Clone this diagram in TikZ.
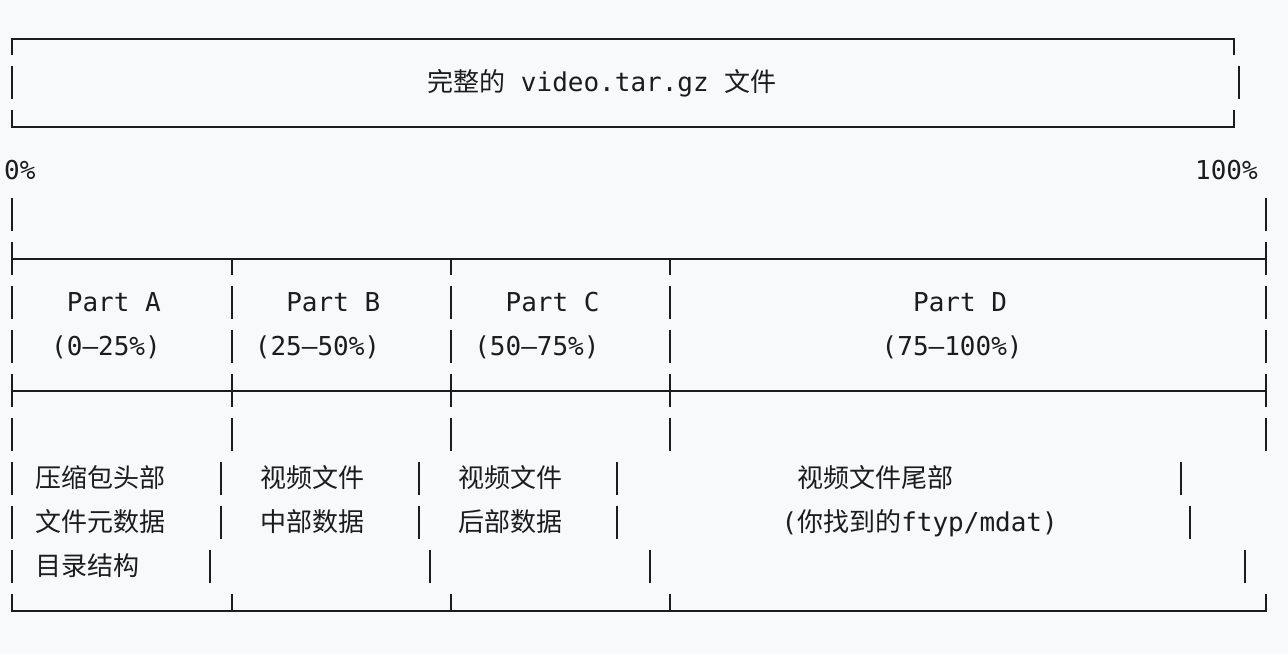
\documentclass[tikz,border=0pt]{standalone}
\usepackage{fontspec}
\setmainfont{DejaVu Sans Mono}
\newfontfamily\cjk{Noto Sans CJK SC}
\usepackage{xcolor}
\usepackage{tikz}
\definecolor{paper}{HTML}{F8F9FB}
\definecolor{ink}{HTML}{1C1C1C}

\begin{document}
\begin{tikzpicture}[x=1pt,y=-1pt,
        frame/.style={ink, line width=2pt},
        txt/.style={ink, anchor=base west, inner sep=0pt, outer sep=0pt, font=\fontsize{26}{30}\selectfont}]
        \fill[paper] (0,0) rectangle (1288,654);
        \useasboundingbox (0,0) rectangle (1288,654);
        % whole archive box
        \draw[frame] (12,54.5) -- (12,39) -- (1234,39) -- (1234,54.5);
        \draw[frame] (12,109.5) -- (12,127) -- (1234,127) -- (1234,109.5);
        \draw[frame] (12,65.5) -- (12,98.5);
        \draw[frame] (1239,65.5) -- (1239,98.5);
        \node[txt] (title) at (427.3,91) {{\cjk 完整的} video.tar.gz {\cjk 文件}};
        % scale
        \node[txt] (zero) at (4.2,179) {0\%};
        \node[txt] (full) at (1195.1,179) {100\%};
        \draw[frame] (12,197.5) -- (12,230.5);
        \draw[frame] (1266,197.5) -- (1266,230.5);
        % split lines (rows 5, 8, 13)
        \draw[frame] (12,259) -- (1266,259);
        \draw[frame] (12,241.5) -- (12,274.5);
        \draw[frame] (1266,241.5) -- (1266,274.5);
        \foreach \x in {232,451,670} {
            \draw[frame] (\x,259) -- (\x,274.5);
        }
        \draw[frame] (12,391) -- (1266,391);
        \foreach \x in {12,232,451,670,1266} {
            \draw[frame] (\x,373.5) -- (\x,406.5);
        }
        \draw[frame] (12,593.5) -- (12,611) -- (1266,611) -- (1266,593.5);
        \foreach \x in {232,451,670} {
            \draw[frame] (\x,593.5) -- (\x,611);
        }
        % column bars
        \foreach \r in {6,7,9} {
            \foreach \x in {12,232,451,670,1266} {
                \draw[frame] (\x,{38+44*\r-16.5}) -- (\x,{38+44*\r+16.5});
            }
        }
        % bars drifting with the text rows
        \foreach \x/\r in {12/10,221/10,419/10,617/10,1181/10,
                           12/11,221/11,419/11,617/11,1190/11,
                           12/12,210/12,430/12,650/12,1245/12} {
            \draw[frame] (\x,{38+44*\r-16.5}) -- (\x,{38+44*\r+16.5});
        }
        % parts
        \node[txt] (partA) at (66.9,311) {Part A};
        \node[txt] (partB) at (286.3,311) {Part B};
        \node[txt] (partC) at (505.6,311) {Part C};
        \node[txt] (partD) at (913.1,311) {Part D};
        \node[txt] (rangeA) at (51.2,355) {(0–25\%)};
        \node[txt] (rangeB) at (254.9,355) {(25–50\%)};
        \node[txt] (rangeC) at (474.3,355) {(50–75\%)};
        \node[txt] (rangeD) at (881.7,355) {(75–100\%)};
        % contents
        \node[txt] (headA) at (35.5,487) {\cjk 压缩包头部};
        \node[txt] (metaA) at (35.5,531) {\cjk 文件元数据};
        \node[txt] (dirA) at (35.5,575) {\cjk 目录结构};
        \node[txt] (videoB) at (260,487) {\cjk 视频文件};
        \node[txt] (midB) at (260,531) {\cjk 中部数据};
        \node[txt] (videoC) at (458.2,487) {\cjk 视频文件};
        \node[txt] (backC) at (458.2,531) {\cjk 后部数据};
        \node[txt] (tailD) at (797.3,487) {\cjk 视频文件尾部};
        \node[txt] (boxD) at (781.6,531) {({\cjk 你找到的}ftyp/mdat)};
    \end{tikzpicture}
\end{document}
